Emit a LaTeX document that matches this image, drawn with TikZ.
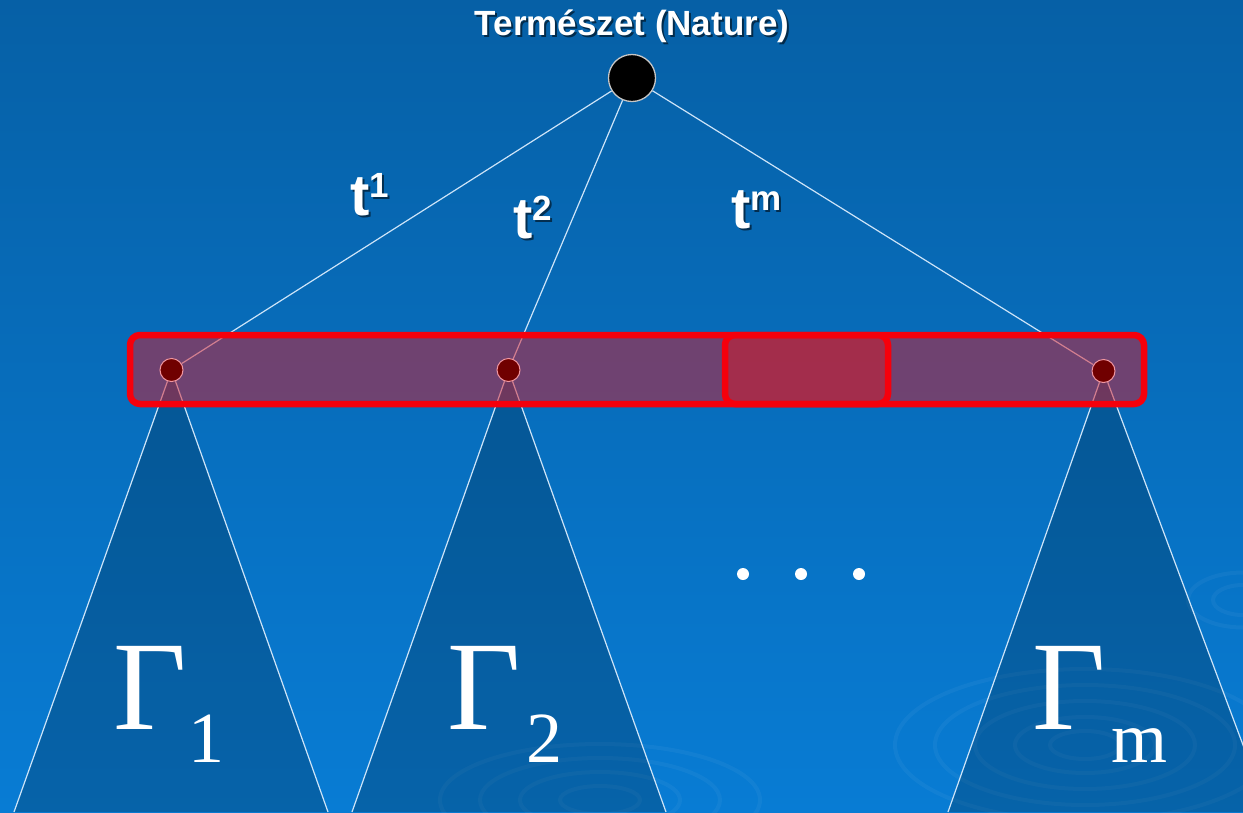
\documentclass[tikz,border=0pt]{standalone}
\usepackage{fontspec}
\setmainfont{Liberation Serif}
\newfontfamily\sansf{Liberation Sans}
\definecolor{bgtop}{RGB}{6,96,166}
\definecolor{bgbot}{RGB}{8,124,212}
\definecolor{linec}{RGB}{205,228,248}
\definecolor{boxred}{RGB}{245,0,12}
\definecolor{boxfill}{RGB}{215,25,40}
\definecolor{leafred}{RGB}{112,0,0}
\definecolor{leafedge}{RGB}{240,150,160}
\pgfdeclarelayer{bg}
\pgfdeclarelayer{boxl}
\pgfdeclarelayer{fg}
\pgfsetlayers{bg,main,boxl,fg}
\tikzset{
  nature/.style={circle, fill=black, draw=gray!45, line width=1.3pt, minimum size=47pt, inner sep=0pt},
  leaf/.style={circle, fill=leafred, draw=leafedge, line width=1pt, minimum size=23pt, inner sep=0pt},
  edge/.style={draw=linec, line width=1.2pt},
  tri/.style={fill=black, fill opacity=0.2},
  bigbox/.style={draw=boxred, line width=6.5pt, rounded corners=10pt, fill=boxfill, fill opacity=0.5},
  dotn/.style={circle, fill=white, minimum size=12pt, inner sep=0pt},
  title/.style={text=white, font=\sansf\bfseries\fontsize{35}{35}\selectfont, inner sep=0pt},
  tlab/.style={text=white, font=\sansf\bfseries\fontsize{58}{58}\selectfont, inner sep=0pt},
  shad/.style={text=black, text opacity=0.55},
  gam/.style={text=white, font=\fontsize{127}{127}\selectfont, inner sep=0pt},
  ripple/.style={draw=white, draw opacity=0.045, line width=4pt}
}
\newcommand{\tsup}[1]{t\raisebox{18pt}{\fontsize{35}{35}\selectfont #1}}
\newcommand{\gsub}[2]{Γ\hspace{#2}\raisebox{-33pt}{\fontsize{72}{72}\selectfont #1}}
\begin{document}
\begin{tikzpicture}[x=1pt,y=-1pt]
\useasboundingbox (0,0) rectangle (1243,812);
\begin{pgfonlayer}{bg}
\shade[top color=bgtop, bottom color=bgbot] (0,0) rectangle (1243,812);
\begin{scope}
\clip (0,0) rectangle (1243,812);
\foreach \r in {35,70,110,150,190}{
  \draw[ripple] (1085,745) ellipse ({\r pt} and {0.4*\r pt});
}
\foreach \r in {40,80,120,160}{
  \draw[ripple] (600,800) ellipse ({\r pt} and {0.35*\r pt});
}
\foreach \r in {30,55}{
  \draw[ripple] (1243,600) ellipse ({\r pt} and {0.5*\r pt});
}
\end{scope}
\end{pgfonlayer}

\begin{pgfonlayer}{fg}
\node[nature] (N) at (632,78) {};
\node[leaf] (a) at (171.5,370) {};
\node[leaf] (b) at (508.5,370) {};
\node[leaf] (c) at (1103.5,371) {};
\end{pgfonlayer}

\coordinate (a1) at (14,812);
\coordinate (a2) at (328,812);
\coordinate (b1) at (352,812);
\coordinate (b2) at (666,812);
\coordinate (c1) at (948,812);
\coordinate (c2) at (1268,812);

\begin{scope}
\clip (0,0) rectangle (1243,812);
\fill[tri] (a.center) -- (a1) -- (a2) -- cycle;
\fill[tri] (b.center) -- (b1) -- (b2) -- cycle;
\fill[tri] (c.center) -- (c1) -- (c2) -- cycle;
\draw[edge] (a) -- (a1);
\draw[edge] (a) -- (a2);
\draw[edge] (b) -- (b1);
\draw[edge] (b) -- (b2);
\draw[edge] (c) -- (c1);
\draw[edge] (c) -- (c2);
\end{scope}

\draw[edge] (N) -- (a);
\draw[edge] (N) -- (b);
\draw[edge] (N) -- (c);

\begin{pgfonlayer}{boxl}
\path[bigbox] (130,335) rectangle (1144,404);
\path[bigbox] (725,335) rectangle (888,404);
\end{pgfonlayer}

\node[title, shad, anchor=base] (Ts) at (634,37) {Természet (Nature)};
\node[title, anchor=base] (T) at (632,35) {Természet (Nature)};

\node[tlab, shad, anchor=base west] (t1s) at (352,217) {\tsup{1}};
\node[tlab, anchor=base west] (t1) at (350,215) {\tsup{1}};
\node[tlab, shad, anchor=base west] (t2s) at (515,240) {\tsup{2}};
\node[tlab, anchor=base west] (t2) at (513,238) {\tsup{2}};
\node[tlab, shad, anchor=base west] (tms) at (733,230) {\tsup{m}};
\node[tlab, anchor=base west] (tm) at (731,228) {\tsup{m}};

\node[dotn] (d1) at (743,574) {};
\node[dotn] (d2) at (801,574) {};
\node[dotn] (d3) at (859,574) {};

\node[gam, anchor=base west] (g1) at (113,729) {\gsub{1}{2pt}};
\node[gam, anchor=base west] (g2) at (447,729) {\gsub{2}{6pt}};
\node[gam, anchor=base west] (gm) at (1032,729) {\gsub{m}{6pt}};
\end{tikzpicture}
\end{document}
